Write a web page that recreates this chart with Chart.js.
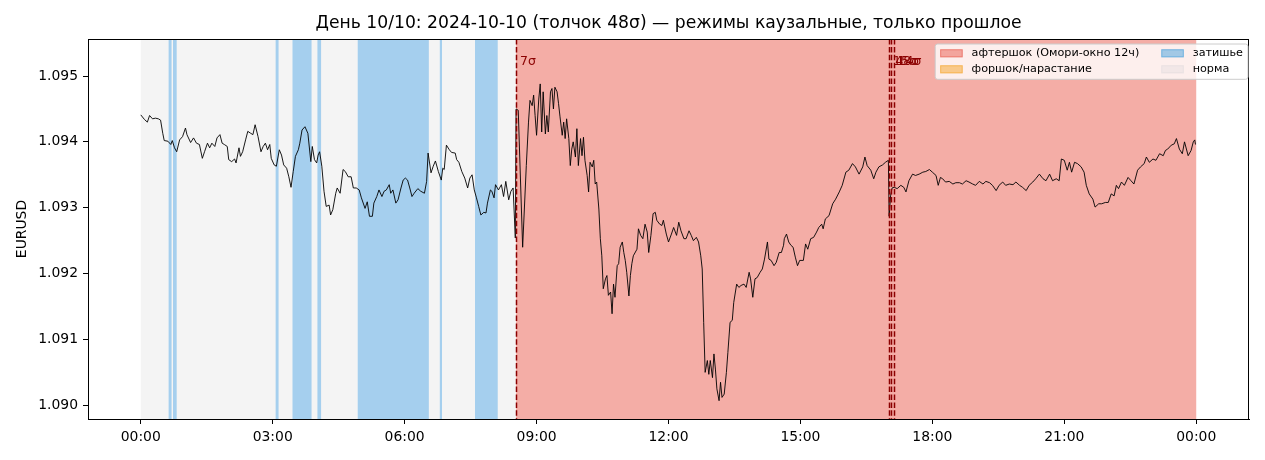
<!DOCTYPE html>
<html>
<head>
<meta charset="utf-8">
<script src="https://cdn.jsdelivr.net/npm/chart.js@4.4.1/dist/chart.umd.min.js"></script>
<style>
  body { margin: 0; background: #fff; }
  canvas { display: block; }
</style>
</head>
<body>
<canvas id="chart" width="1265" height="460"></canvas>
<script>
// minutes from 00:00 of 2024-10-10
const tMin = [
  0, 5, 9, 12, 16, 20, 24, 27, 30, 32, 37, 41, 43, 46, 49, 53, 57, 61, 63, 68,
  72, 76, 80, 84, 87, 91, 94, 97, 101, 104, 108, 111, 114, 118, 120, 124, 128, 130, 134, 136,
  139, 143, 146, 150, 153, 156, 160, 164, 167, 170, 173, 176, 178, 182, 185, 189, 192, 195, 199, 202,
  205, 208, 211, 215, 217, 220, 224, 226, 228, 232, 234, 237, 240, 242, 244, 247, 250, 253, 257, 259,
  262, 266, 268, 272, 276, 279, 283, 287, 290, 294, 298, 301, 306, 309, 312, 316, 318, 322, 325, 329,
  332, 335, 339, 341, 344, 348, 351, 355, 358, 361, 364, 367, 370, 373, 378, 382, 387, 390, 392, 396,
  399, 402, 406, 410, 412, 414, 417, 421, 424, 429, 431, 434, 438, 442, 446, 449, 452, 455, 458, 461,
  464, 468, 471, 473, 477, 479, 482, 484, 488, 492, 495, 498, 502, 505, 508, 511, 512, 515, 521, 526,
  529, 531, 534, 536, 538, 540, 543, 545, 547, 549, 552, 554, 556, 559, 561, 563, 565, 568, 570, 572,
  575, 577, 579, 581, 584, 586, 588, 590, 593, 595, 597, 600, 602, 604, 606, 609, 611, 613, 616, 618,
  620, 622, 625, 627, 629, 631, 634, 636, 638, 641, 643, 645, 647, 650, 652, 654, 657, 659, 661, 663,
  666, 668, 670, 672, 677, 679, 682, 685, 688, 691, 693, 696, 699, 702, 704, 708, 711, 713, 717, 720,
  724, 727, 731, 734, 737, 741, 744, 748, 751, 754, 758, 761, 764, 766, 768, 770, 773, 775, 777, 780,
  782, 784, 786, 789, 791, 793, 796, 799, 801, 804, 807, 809, 813, 816, 819, 823, 826, 830, 832, 835,
  838, 841, 845, 848, 851, 855, 857, 860, 864, 867, 871, 874, 877, 878, 881, 884, 887, 890, 893, 896,
  899, 904, 907, 910, 914, 918, 922, 925, 929, 931, 934, 939, 944, 948, 953, 957, 962, 966, 971, 975,
  980, 985, 988, 991, 996, 1000, 1003, 1007, 1012, 1016, 1020, 1021, 1023, 1025, 1028, 1032, 1037, 1041, 1044, 1048,
  1053, 1057, 1062, 1067, 1071, 1076, 1080, 1085, 1088, 1091, 1094, 1098, 1103, 1108, 1112, 1117, 1121, 1126, 1130, 1135,
  1139, 1144, 1149, 1153, 1158, 1162, 1167, 1171, 1176, 1180, 1185, 1190, 1194, 1199, 1203, 1208, 1212, 1217, 1221, 1226,
  1231, 1235, 1240, 1244, 1249, 1253, 1256, 1260, 1264, 1267, 1270, 1274, 1278, 1283, 1287, 1290, 1294, 1299, 1302, 1307,
  1311, 1316, 1320, 1324, 1328, 1331, 1334, 1338, 1342, 1347, 1351, 1355, 1360, 1364, 1369, 1372, 1376, 1381, 1385, 1390,
  1395, 1398, 1401, 1406, 1410, 1413, 1417, 1421, 1424, 1429, 1433, 1436, 1438, 1439
];

const eurusd = [
  1.09441, 1.09434, 1.09430, 1.09440, 1.09435, 1.09436, 1.09435, 1.09433, 1.09413, 1.09402, 1.09401, 1.09396, 1.09402, 1.09391, 1.09385, 1.09403, 1.09408, 1.09421, 1.09411, 1.09399,
  1.09406, 1.09398, 1.09396, 1.09375, 1.09385, 1.09398, 1.09391, 1.09398, 1.09393, 1.09406, 1.09411, 1.09398, 1.09396, 1.09393, 1.09373, 1.09370, 1.09374, 1.09368, 1.09391, 1.09378,
  1.09385, 1.09403, 1.09416, 1.09413, 1.09411, 1.09426, 1.09408, 1.09385, 1.09393, 1.09398, 1.09388, 1.09396, 1.09375, 1.09365, 1.09363, 1.09388, 1.09380, 1.09365, 1.09360, 1.09347,
  1.09331, 1.09355, 1.09378, 1.09388, 1.09398, 1.09418, 1.09423, 1.09418, 1.09413, 1.09370, 1.09393, 1.09373, 1.09368, 1.09380, 1.09385, 1.09363, 1.09325, 1.09302, 1.09304, 1.09289,
  1.09297, 1.09322, 1.09330, 1.09322, 1.09358, 1.09355, 1.09347, 1.09347, 1.09330, 1.09330, 1.09327, 1.09315, 1.09299, 1.09309, 1.09287, 1.09287, 1.09307, 1.09317, 1.09327, 1.09317,
  1.09325, 1.09327, 1.09335, 1.09322, 1.09327, 1.09307, 1.09312, 1.09330, 1.09342, 1.09345, 1.09342, 1.09330, 1.09317, 1.09322, 1.09329, 1.09325, 1.09322, 1.09340, 1.09383, 1.09353,
  1.09363, 1.09371, 1.09355, 1.09342, 1.09360, 1.09358, 1.09395, 1.09388, 1.09384, 1.09383, 1.09373, 1.09369, 1.09355, 1.09345, 1.09330, 1.09345, 1.09350, 1.09327, 1.09315, 1.09302,
  1.09289, 1.09293, 1.09292, 1.09307, 1.09327, 1.09325, 1.09315, 1.09335, 1.09327, 1.09335, 1.09317, 1.09340, 1.09312, 1.09325, 1.09330, 1.09254, 1.09450, 1.09448, 1.09240, 1.09364,
  1.09430, 1.09463, 1.09455, 1.09471, 1.09440, 1.09410, 1.09465, 1.09488, 1.09415, 1.09476, 1.09412, 1.09440, 1.09415, 1.09476, 1.09481, 1.09450, 1.09483, 1.09476, 1.09458, 1.09438,
  1.09410, 1.09430, 1.09405, 1.09435, 1.09405, 1.09364, 1.09389, 1.09400, 1.09377, 1.09420, 1.09364, 1.09405, 1.09379, 1.09407, 1.09372, 1.09349, 1.09324, 1.09369, 1.09362, 1.09372,
  1.09336, 1.09339, 1.09298, 1.09253, 1.09227, 1.09177, 1.09192, 1.09197, 1.09167, 1.09172, 1.09139, 1.09184, 1.09164, 1.09212, 1.09215, 1.09240, 1.09248, 1.09232, 1.09220, 1.09202,
  1.09166, 1.09197, 1.09215, 1.09227, 1.09237, 1.09268, 1.09258, 1.09253, 1.09275, 1.09263, 1.09232, 1.09258, 1.09291, 1.09293, 1.09281, 1.09275, 1.09273, 1.09281, 1.09260, 1.09248,
  1.09260, 1.09270, 1.09258, 1.09278, 1.09265, 1.09253, 1.09253, 1.09265, 1.09258, 1.09250, 1.09255, 1.09248, 1.09227, 1.09207, 1.09126, 1.09050, 1.09068, 1.09047, 1.09068, 1.09042,
  1.09078, 1.09055, 1.09025, 1.09007, 1.09035, 1.09012, 1.09017, 1.09050, 1.09080, 1.09126, 1.09129, 1.09156, 1.09184, 1.09179, 1.09182, 1.09184, 1.09179, 1.09202, 1.09192, 1.09164,
  1.09192, 1.09194, 1.09202, 1.09207, 1.09222, 1.09248, 1.09222, 1.09220, 1.09212, 1.09217, 1.09232, 1.09232, 1.09243, 1.09253, 1.09260, 1.09248, 1.09243, 1.09240, 1.09225, 1.09212,
  1.09220, 1.09220, 1.09245, 1.09237, 1.09253, 1.09255, 1.09263, 1.09270, 1.09275, 1.09268, 1.09283, 1.09288, 1.09306, 1.09313, 1.09324, 1.09334, 1.09354, 1.09357, 1.09367, 1.09362,
  1.09351, 1.09362, 1.09377, 1.09364, 1.09357, 1.09344, 1.09354, 1.09362, 1.09365, 1.09369, 1.09372, 1.09287, 1.09318, 1.09330, 1.09331, 1.09329, 1.09334, 1.09331, 1.09324, 1.09341,
  1.09351, 1.09349, 1.09351, 1.09354, 1.09355, 1.09358, 1.09354, 1.09349, 1.09334, 1.09346, 1.09344, 1.09339, 1.09340, 1.09336, 1.09338, 1.09338, 1.09336, 1.09341, 1.09339, 1.09336,
  1.09334, 1.09340, 1.09336, 1.09340, 1.09338, 1.09334, 1.09326, 1.09334, 1.09339, 1.09334, 1.09336, 1.09335, 1.09339, 1.09334, 1.09331, 1.09326, 1.09334, 1.09339, 1.09344, 1.09351,
  1.09344, 1.09341, 1.09351, 1.09341, 1.09344, 1.09341, 1.09374, 1.09372, 1.09357, 1.09369, 1.09354, 1.09369, 1.09367, 1.09362, 1.09354, 1.09334, 1.09321, 1.09313, 1.09301, 1.09306,
  1.09306, 1.09308, 1.09308, 1.09321, 1.09318, 1.09334, 1.09329, 1.09339, 1.09334, 1.09346, 1.09341, 1.09336, 1.09357, 1.09362, 1.09367, 1.09377, 1.09369, 1.09374, 1.09372, 1.09382,
  1.09379, 1.09387, 1.09389, 1.09395, 1.09397, 1.09405, 1.09389, 1.09382, 1.09400, 1.09379, 1.09387, 1.09400, 1.09403, 1.09396
];

// regime spans [start, end] in minutes
const normSpans = [[0, 512]];
const calmSpans = [[38, 42], [44, 49], [184, 188], [207, 233], [241, 246], [296, 393], [408, 411], [456, 487]];
const foreSpans = [];
const afterSpans = [[512, 1440]];

// shocks
const shockMin = [512, 1021, 1024, 1027];
const shockLbl = ['7σ', '15σ', '48σ', '14σ'];

const xTicks = [0, 180, 360, 540, 720, 900, 1080, 1260, 1440];
const yTicks = [1.090, 1.091, 1.092, 1.093, 1.094, 1.095];

const legendItems = [
  ['афтершок (Омори-окно 12ч)', 'rgba(231,76,60,0.45)'],
  ['форшок/нарастание', 'rgba(243,156,18,0.45)'],
  ['затишье', 'rgba(52,152,219,0.45)'],
  ['норма', 'rgba(189,195,199,0.17)']
];

const TITLE = 'День 10/10: 2024-10-10 (толчок 48σ) — режимы каузальные, только прошлое';
const FONT = 'DejaVu Sans';

function hhmm(m) {
  const h = Math.floor(m / 60) % 24, mm = m % 60;
  return String(h).padStart(2, '0') + ':' + String(mm).padStart(2, '0');
}

const regimePlugin = {
  id: 'regimes',
  beforeDatasetsDraw(chart) {
    const { ctx, chartArea: a, scales: { x } } = chart;
    ctx.save();
    ctx.beginPath();
    ctx.rect(a.left, a.top, a.width, a.height);
    ctx.clip();
    const fill = (spans, color) => spans.forEach(([s, e]) => {
      const x0 = x.getPixelForValue(s), x1 = x.getPixelForValue(e);
      ctx.fillStyle = color;
      ctx.fillRect(x0, a.top, x1 - x0, a.height);
    });
    fill(normSpans, 'rgb(244,244,244)');
    fill(calmSpans, 'rgb(165,207,238)');
    fill(foreSpans, 'rgb(250,205,146)');
    fill(afterSpans, 'rgb(244,173,166)');
    ctx.restore();
  },
  afterDatasetsDraw(chart) {
    const { ctx, chartArea: a, scales: { x } } = chart;
    ctx.save();
    ctx.strokeStyle = '#8b0000';
    ctx.lineWidth = 1.5;
    ctx.setLineDash([5.5, 2.4]);
    shockMin.forEach(m => {
      const px = Math.round(x.getPixelForValue(m)) + 0.5;
      ctx.beginPath();
      ctx.moveTo(px, a.top);
      ctx.lineTo(px, a.bottom);
      ctx.stroke();
    });
    ctx.setLineDash([]);
    ctx.fillStyle = '#8b0000';
    ctx.font = '12.5px "' + FONT + '"';
    ctx.textBaseline = 'middle';
    shockMin.forEach((m, i) => {
      ctx.fillText(shockLbl[i], x.getPixelForValue(m) + 4, a.top + 23);
    });
    ctx.restore();
  },
  afterDraw(chart) {
    const { ctx, chartArea: a } = chart;
    ctx.save();
    // title, centred over the axes
    ctx.fillStyle = '#000';
    ctx.font = '17.2px "' + FONT + '"';
    ctx.textAlign = 'center';
    ctx.textBaseline = 'middle';
    ctx.fillText(TITLE, (a.left + a.right) / 2, 24);
    ctx.textAlign = 'left';

    // frame
    ctx.strokeStyle = '#000';
    ctx.lineWidth = 1;
    ctx.strokeRect(Math.round(a.left) + 0.5, Math.round(a.top) + 0.5,
      Math.round(a.width) - 1, Math.round(a.height));

    // legend, two columns, upper right
    const fs = 11.2;
    ctx.font = fs + 'px "' + FONT + '"';
    const hl = 22.5, hh = 8, pad = 8.9, colGap = 22, rowH = 16, bp = 5;
    const col1 = [legendItems[0], legendItems[1]];
    const col2 = [legendItems[2], legendItems[3]];
    const w1 = Math.max(...col1.map(it => ctx.measureText(it[0]).width));
    const w2 = Math.max(...col2.map(it => ctx.measureText(it[0]).width));
    const boxW = bp * 2 + hl + pad + w1 + colGap + hl + pad + w2;
    const boxH = 35.3;
    const bx = a.right - 1 - boxW, by = a.top + 5;
    ctx.beginPath();
    ctx.roundRect(bx, by, boxW, boxH, 2.5);
    ctx.fillStyle = 'rgba(255,255,255,0.8)';
    ctx.fill();
    ctx.strokeStyle = '#cccccc';
    ctx.stroke();
    ctx.textBaseline = 'middle';
    const drawCol = (items, x0) => items.forEach(([label, color], r) => {
      const cy = by + 9.3 + rowH * r;
      ctx.fillStyle = color;
      ctx.fillRect(x0, cy - hh / 2, hl, hh);
      ctx.strokeStyle = color;
      ctx.strokeRect(x0 + 0.5, cy - hh / 2 + 0.5, hl - 1, hh - 1);
      ctx.fillStyle = '#000';
      ctx.fillText(label, x0 + hl + pad, cy);
    });
    drawCol(col1, bx + bp);
    drawCol(col2, bx + bp + hl + pad + w1 + colGap);
    ctx.restore();
  }
};

const ctx = document.getElementById('chart').getContext('2d');
const chart = new Chart(ctx, {
  type: 'line',
  data: {
    datasets: [{
      label: 'EURUSD',
      data: tMin.map((t, i) => ({ x: t, y: eurusd[i] })),
      borderColor: '#000',
      borderWidth: 0.9,
      pointRadius: 0,
      tension: 0,
      fill: false
    }]
  },
  options: {
    responsive: false,
    animation: false,
    layout: { padding: { left: 0, right: 16, top: 39, bottom: 0 } },
    plugins: {
      legend: { display: false },
      tooltip: { enabled: false },
      title: { display: false }
    },
    scales: {
      x: {
        type: 'linear',
        min: -72,
        max: 1512,
        afterBuildTicks: s => { s.ticks = xTicks.map(v => ({ value: v })); },
        afterFit: s => { s.height = 41; },
        ticks: {
          callback: v => hhmm(v),
          color: '#000',
          font: { family: FONT, size: 13.9 },
          maxRotation: 0,
          autoSkip: false,
          padding: 5
        },
        grid: { drawOnChartArea: false, drawTicks: true, tickLength: 5, color: '#000' },
        border: { display: true, color: '#000' }
      },
      y: {
        type: 'linear',
        min: 1.089792,
        max: 1.095562,
        afterBuildTicks: s => { s.ticks = yTicks.map(v => ({ value: v })); },
        afterFit: s => { s.width = 88; },
        ticks: {
          callback: v => v.toFixed(3),
          color: '#000',
          font: { family: FONT, size: 13.9 },
          padding: 5
        },
        grid: { drawOnChartArea: false, drawTicks: true, tickLength: 5, color: '#000' },
        border: { display: true, color: '#000' },
        title: {
          display: true,
          text: 'EURUSD',
          color: '#000',
          font: { family: FONT, size: 13.9 },
          padding: { top: 14, bottom: 0 }
        }
      }
    }
  },
  plugins: [regimePlugin]
});
</script>
</body>
</html>
